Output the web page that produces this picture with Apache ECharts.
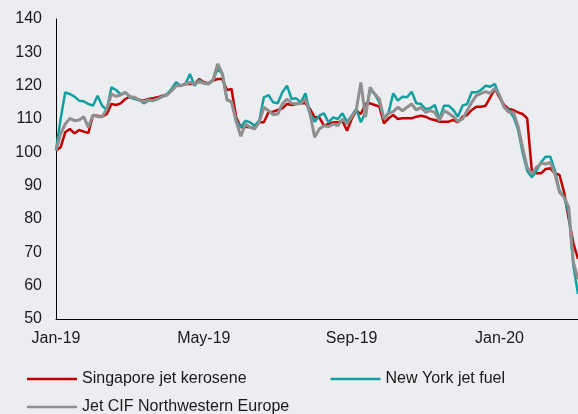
<!DOCTYPE html>
<html>
<head>
<meta charset="utf-8">
<script src="https://cdn.jsdelivr.net/npm/echarts@6/dist/echarts.min.js"></script>
<style>
  html, body { margin: 0; padding: 0; background: #ECEDF0; }
  #chart { width: 578px; height: 414px; }
</style>
</head>
<body>
<div id="chart"></div>
<script>
// 航油价格指数 (Jan-19 = 100), 每 1/8 个月取一个点
const stepMonths = 0.125;
const xLabels = ['Jan-19', 'May-19', 'Sep-19', 'Jan-20'];
const xLabelAt = [0, 4, 8, 12];

const singapore = [
  100.5, 101.5, 106, 107, 105.7, 106.7, 106.2, 105.8, 111, 111,
  110.7, 111.5, 114.5, 114.2, 114.7, 116, 116.7, 116.2, 115.8, 115.5,
  116, 116.2, 116.5, 117, 117.2, 118.5, 120, 120, 120.5, 120.5,
  120.5, 122, 121, 120.7, 121.5, 122, 122, 118.7, 119, 110.5,
  107.5, 107.7, 107.5, 107.2, 109, 109, 112, 112.2, 112.7, 113.2,
  114.5, 114.2, 114.5, 114.7, 114.7, 113, 110.5, 110.5, 108, 108.5,
  109, 109, 109.5, 106.5, 110, 112.5, 111.5, 114.5, 114.7, 114.2,
  113.7, 108.7, 110.2, 111.2, 110, 110.2, 110.2, 110.2, 110.7, 111,
  110.7, 110, 109.7, 109.2, 109.2, 109.2, 109.7, 109, 110.7, 111.2,
  112.7, 113.7, 113.7, 114, 116.5, 119, 116.5, 114.2, 113, 112.7,
  112, 111.5, 110.2, 94.5, 93.7, 93.7, 95, 95.2, 93.7, 93.2,
  88, 80, 72.7, 68
];

const newYork = [
  100.7, 110, 118, 117.5, 116.7, 115.5, 115.3, 114.5, 114, 117,
  114, 112.7, 119.5, 118.7, 117.4, 118, 116.5, 116, 115.7, 114.7,
  115.5, 115.7, 116, 116.8, 117.5, 119, 121, 120, 120.5, 123.5,
  120, 121.7, 120.7, 120.7, 121.7, 125, 123.5, 116, 115, 109.5,
  107.5, 109.5, 109, 108, 109.5, 116.5, 117.2, 115, 114.7, 118,
  120, 116, 116.2, 115, 117.7, 111.7, 109.2, 111, 111.7, 109,
  110.5, 110, 111.7, 109.2, 111, 113, 109, 112, 118.7, 117.5,
  115, 110, 112, 117.7, 115.5, 116.7, 116.5, 118.2, 114.7, 114.5,
  113, 113.2, 114.2, 110, 114, 114, 112.7, 110.7, 114, 114.5,
  118, 118, 118.7, 120, 119.7, 120.5, 117, 113.7, 112.7, 110.7,
  107, 100, 94.5, 92.5, 94.5, 97, 98.7, 98.7, 94.5, 88.5,
  86.5, 81.7, 66, 57.5
];

const nwEurope = [
  100.5, 105.5, 108.5, 110.2, 109.5, 109.7, 110.7, 107.5, 111.2, 110.7,
  110.7, 113, 117.5, 116.8, 117.2, 118, 116.7, 116.5, 115.7, 115.2,
  115.7, 115.5, 116, 116.7, 117.2, 118.5, 120, 120, 120.5, 121,
  120.5, 121.2, 120.7, 120.5, 121.7, 126.5, 123.7, 115.7, 115.2, 109.3,
  104.8, 108.5, 107.5, 107, 109, 113.5, 112.5, 111.3, 111.5, 114.5,
  116, 114.7, 114.5, 114.7, 116, 111.5, 104.5, 107, 108, 107.7,
  108.5, 108, 110, 108.5, 110.7, 112.7, 121, 110.5, 119.5, 117.5,
  116, 110, 111.7, 112.2, 113.5, 112.5, 113.5, 114.5, 112.7, 113.5,
  112, 112.5, 112, 109.5, 112.5, 111.7, 110.7, 109.3, 110, 112.5,
  115, 117, 117.7, 118.2, 117.7, 119.2, 117.2, 113.5, 112, 112,
  108, 101.5, 95.5, 93.5, 95.5, 96.7, 96.5, 97, 93.5, 88,
  86.5, 83.5, 67, 62
];

function toPairs(values) {
  return values.map((v, i) => [i * stepMonths, v]);
}

const font = "'Liberation Sans', Arial, sans-serif";
const chart = echarts.init(document.getElementById('chart'));

const option = {
  animation: false,
  backgroundColor: '#ECEDF0',
  grid: {
    left: 56,
    right: 0,
    top: 19,
    bottom: 95,
    outerBoundsMode: 'none'
  },
  legend: [
    {
      data: ['Singapore jet kerosene', 'New York jet fuel'],
      left: 22,
      top: 366,
      icon: 'rect',
      itemWidth: 50,
      itemHeight: 2.5,
      itemGap: 84,
      textStyle: { fontFamily: font, fontSize: 16, color: '#1a1a1a' }
    },
    {
      data: ['Jet CIF Northwestern Europe'],
      left: 22,
      top: 394,
      icon: 'rect',
      itemWidth: 50,
      itemHeight: 2.5,
      textStyle: { fontFamily: font, fontSize: 16, color: '#1a1a1a' }
    }
  ],
  xAxis: {
    type: 'value',
    min: 0,
    max: (singapore.length - 1) * stepMonths,
    interval: 4,
    axisLine: { lineStyle: { color: '#000', width: 1 } },
    axisTick: { show: false },
    splitLine: { show: false },
    axisLabel: {
      margin: 12,
      fontFamily: font,
      fontSize: 16,
      color: '#1a1a1a',
      showMaxLabel: false,
      formatter: function (v) {
        const k = xLabelAt.indexOf(v);
        return k >= 0 ? xLabels[k] : '';
      }
    }
  },
  yAxis: {
    type: 'value',
    min: 50,
    max: 140,
    interval: 10,
    axisLine: { show: true, lineStyle: { color: '#000', width: 1 } },
    axisTick: { show: false },
    splitLine: { show: false },
    axisLabel: {
      margin: 14,
      fontFamily: font,
      fontSize: 16,
      color: '#1a1a1a'
    }
  },
  series: [
    {
      name: 'Singapore jet kerosene',
      type: 'line',
      data: toPairs(singapore),
      showSymbol: false,
      color: '#C00000',
      lineStyle: { width: 2.5, color: '#C00000' }
    },
    {
      name: 'New York jet fuel',
      type: 'line',
      data: toPairs(newYork),
      showSymbol: false,
      color: '#11A0A0',
      lineStyle: { width: 2.5, color: '#11A0A0' }
    },
    {
      name: 'Jet CIF Northwestern Europe',
      type: 'line',
      data: toPairs(nwEurope),
      showSymbol: false,
      color: '#8F8F8F',
      lineStyle: { width: 3, color: '#8F8F8F' }
    }
  ]
};

chart.setOption(option);

window.addEventListener('resize', function () {
  chart.resize();
});
</script>
</body>
</html>
